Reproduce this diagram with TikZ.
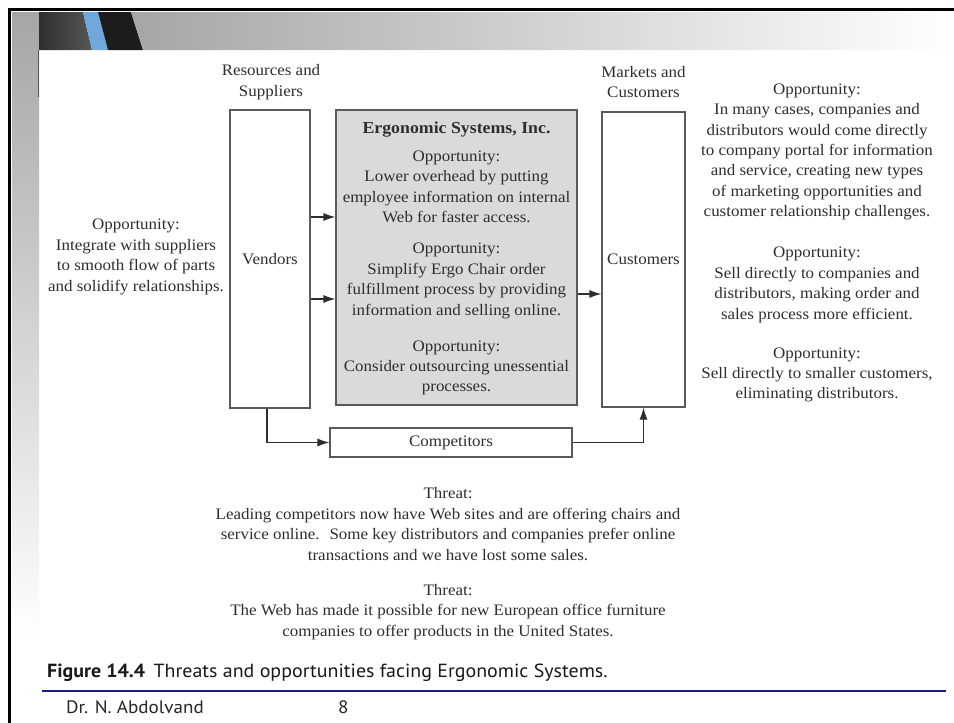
\documentclass[tikz,border=0pt]{standalone}
\usepackage{fontspec}
\setmainfont{Liberation Serif}[FakeStretch=1.06]
\newfontfamily\capfont{PT Sans}[FakeStretch=1.05]
\newfontfamily\footfont{PT Sans}[FakeStretch=1.06]
\usetikzlibrary{arrows.meta}
\definecolor{ink}{HTML}{2E2E2E}
\definecolor{boxline}{HTML}{5A5A5A}
\definecolor{firmfill}{HTML}{DADADA}
\definecolor{stripeblue}{HTML}{6FA8DC}
\definecolor{navyrule}{HTML}{16207A}
\tikzset{
  txt/.style={text=ink, align=center, inner sep=0pt,
    font=\fontsize{16}{20.4}\selectfont},
  plainbox/.style={draw=boxline, line width=1.1pt, fill=white, inner sep=0pt,
    text=ink, font=\fontsize{16}{20.4}\selectfont},
  firmbox/.style={plainbox, fill=firmfill},
  arr/.style={draw=ink, line width=1.1pt, -{Latex[length=12pt,width=8pt]}},
  foot/.style={inner sep=0pt, anchor=west}
}
\begin{document}
\begin{tikzpicture}[x=1pt,y=-1pt]
\useasboundingbox (0,0) rectangle (954,723);
\fill[white] (0,0) rectangle (954,723);

% slide decoration: side strip and header band
\shade[top color=black!35, bottom color=white] (12,12) rectangle (39,640);
\fill[white] (12,640) rectangle (39,723);
\shade[left color=black!82, right color=black!66] (39,12) -- (83,12) -- (92,50) -- (39,50) -- cycle;
\fill[stripeblue] (83,12) -- (98,12) -- (108,50) -- (92,50) -- cycle;
\fill[black!89] (98,12) -- (131,12) -- (143,50) -- (108,50) -- cycle;
\shade[left color=black!35, right color=white] (131,12) -- (954,12) -- (954,50) -- (143,50) -- cycle;
\draw[black!65, line width=0.8pt] (38.5,50) -- (38.5,97);
\draw[black, line width=3pt] (8,9.5) -- (954,9.5);
\draw[black, line width=3pt] (9.5,8) -- (9.5,723);

% column headings
\node[txt] (reshead) at (271,82) {Resources and\\Suppliers};
\node[txt] (markhead) at (643.5,82) {Markets and\\Customers};

% main boxes
\node[plainbox, minimum width=80pt, minimum height=298pt] (vend) at (270,259) {Vendors};
\node[firmbox, minimum width=241pt, minimum height=295pt] (firm) at (456.5,257.5) {};
\node[plainbox, minimum width=83pt, minimum height=295pt] (cust) at (643.5,259.5) {Customers};
\node[plainbox, minimum width=242pt, minimum height=29pt] (comp) at (451,442.5) {Competitors};

% text inside the firm box
\node[txt, font=\bfseries\fontsize{16.8}{20}\selectfont] (firmname) at (456.5,130) {Ergonomic Systems, Inc.};
\node[txt] (opa) at (456.5,187) {Opportunity:\\Lower overhead by putting\\employee information on internal\\Web for faster access.};
\node[txt] (opb) at (456.5,281) {Opportunity:\\Simplify Ergo Chair order\\fulfillment process by providing\\information and selling online.};
\node[txt] (opc) at (456.5,368) {Opportunity:\\Consider outsourcing unessential\\processes.};

% side notes
\node[txt] (opleft) at (136,257) {Opportunity:\\Integrate with suppliers\\to smooth flow of parts\\and solidify relationships.};
\node[txt] (opr1) at (817,152) {Opportunity:\\In many cases, companies and\\distributors would come directly\\to company portal for information\\and service, creating new types\\of marketing opportunities and\\customer relationship challenges.};
\node[txt] (opr2) at (817,285) {Opportunity:\\Sell directly to companies and\\distributors, making order and\\sales process more efficient.};
\node[txt] (opr3) at (817,375) {Opportunity:\\Sell directly to smaller customers,\\eliminating distributors.};

% threats
\node[txt, font=\fontsize{16}{20.8}\selectfont] (threat1) at (448,524) {Threat:\\Leading competitors now have Web sites and are offering chairs and\\service online.~ Some key distributors and companies prefer online\\transactions and we have lost some sales.};
\node[txt] (threat2) at (448,612) {Threat:\\The Web has made it possible for new European office furniture\\companies to offer products in the United States.};

% connectors
\coordinate (va) at ([yshift=42pt]vend.east);
\coordinate (vb) at ([yshift=-40pt]vend.east);
\coordinate (fa) at ([yshift=-36.5pt]firm.east);
\draw[arr] (va) -- (va -| firm.west);
\draw[arr] (vb) -- (vb -| firm.west);
\draw[arr] (fa) -- (fa -| cust.west);
\draw[arr] ([xshift=-3pt]vend.south) |- (comp.west);
\draw[arr] (comp.east) -| (cust.south);

% caption and footer
\node[foot, font=\capfont\fontsize{19}{22}\selectfont, text=black!90] (cap) at (47,673) {\textbf{Figure 14.4}\, Threats and opportunities facing Ergonomic Systems.};
\draw[navyrule, line width=2.5pt] (42,691) -- (946,691);
\node[foot, font=\footfont\fontsize{18}{20}\selectfont, text=black!85] (author) at (66,707) {Dr. N. Abdolvand};
\node[foot, font=\footfont\fontsize{18}{20}\selectfont, text=black!85] (pagenum) at (338,707) {8};
\end{tikzpicture}
\end{document}
